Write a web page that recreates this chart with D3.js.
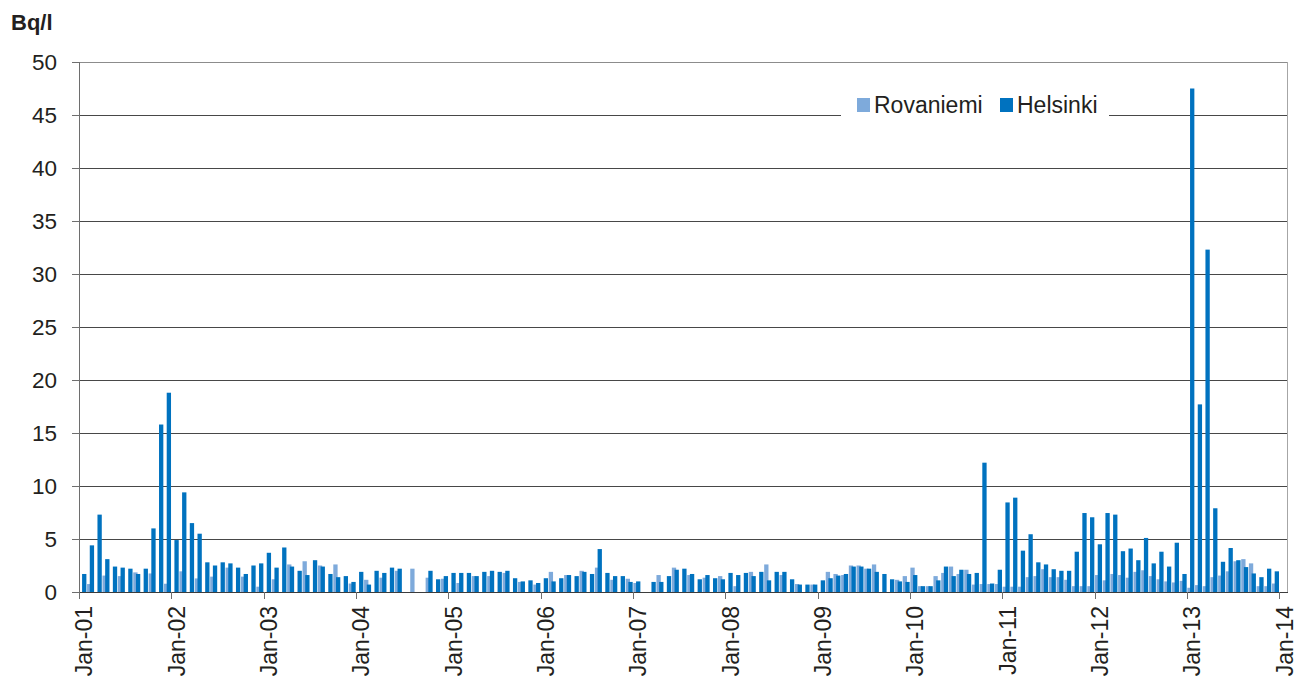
<!DOCTYPE html>
<html>
<head>
<meta charset="utf-8">
<script src="https://cdn.jsdelivr.net/npm/d3@7"></script>
<style>
  body { margin: 0; background: #fff; }
  svg { display: block; }
  text { font-family: "Liberation Sans", Arial, Helvetica, sans-serif; fill: #231f20; }
</style>
</head>
<body>
<svg id="chart" width="1297" height="679"></svg>
<script>
// Monthly tritium activity in precipitation, Bq/l, Jan 2001 – Dec 2013.
const seriesNames = ["Rovaniemi", "Helsinki"];
const seriesColors = ["#7eaadb", "#0072bf"];

const helsinki = [
  1.7, 4.4, 7.3, 3.1, 2.4, 2.3, 2.2, 1.7, 2.2, 6.0, 15.8, 18.8,        // 2001
  4.9, 9.4, 6.5, 5.5, 2.8, 2.5, 2.8, 2.7, 2.3, 1.7, 2.5, 2.7,          // 2002
  3.7, 2.3, 4.2, 2.4, 2.0, 1.6, 3.0, 2.4, 1.7, 1.4, 1.5, 0.95,         // 2003
  1.9, 0.7, 2.0, 1.8, 2.3, 2.2, null, null, null, 2.0, 1.2, 1.5,       // 2004
  1.8, 1.8, 1.8, 1.5, 1.9, 2.0, 1.9, 2.0, 1.3, 1.0, 1.1, 0.85,         // 2005
  1.3, 1.0, 1.3, 1.6, 1.5, 1.9, 1.7, 4.05, 1.8, 1.5, 1.5, 0.95,        // 2006
  1.0, null, 0.95, 0.95, 1.5, 2.1, 2.2, 1.7, 1.2, 1.6, 1.3, 1.2,       // 2007
  1.8, 1.6, 1.8, 1.5, 1.9, 1.1, 1.9, 1.9, 1.2, 0.7, 0.7, 0.7,          // 2008
  1.1, 1.3, 1.55, 1.7, 2.4, 2.4, 2.2, 1.9, 1.7, 1.2, 1.0, 0.95,        // 2009
  1.6, 0.55, 0.55, 1.1, 2.4, 1.5, 2.1, 1.7, 1.8, 12.2, 0.8, 2.1,       // 2010
  8.45, 8.9, 3.9, 5.45, 2.8, 2.6, 2.15, 2.0, 2.0, 3.8, 7.45, 7.05,     // 2011
  4.5, 7.45, 7.3, 3.85, 4.1, 3.0, 5.1, 2.7, 3.8, 2.4, 4.65, 1.7,       // 2012
  47.5, 17.7, 32.3, 7.9, 2.85, 4.15, 3.0, 2.35, 1.75, 1.4, 2.2, 1.95   // 2013
];

const rovaniemi = [
  null, 0.75, null, 1.55, null, 1.5, null, 1.85, null, 1.75, null, 0.78,   // 2001
  null, 1.95, null, 1.28, null, 1.45, null, 2.3, null, 1.45, null, 0.5,    // 2002
  null, 1.2, null, 2.6, null, 2.9, null, 2.5, null, 2.6, null, 0.8,        // 2003
  null, 1.15, null, 1.35, null, 2.0, null, 2.2, null, 1.35, null, 1.25,    // 2004
  null, 0.85, null, 1.5, null, 1.5, null, 1.8, null, 0.95, null, 0.7,      // 2005
  null, 1.9, null, 1.6, null, 2.0, null, 2.3, null, 1.15, null, 1.25,      // 2006
  0.85, null, null, 1.6, null, 2.3, null, 1.6, null, 1.35, null, 1.5,      // 2007
  null, 0.55, null, 1.9, null, 2.6, null, 1.6, null, 0.75, null, 0.7,      // 2008
  null, 1.9, 1.7, 1.6, 2.5, 2.5, 2.2, 2.6, null, null, 1.15, 1.5,          // 2009
  2.3, 0.55, 0.55, 1.5, 1.8, 2.4, 1.7, 2.1, 0.7, 0.75, 0.75, 0.75,         // 2010
  0.5, 0.5, 0.5, 1.4, 1.5, 2.15, 1.4, 1.4, 1.15, 0.55, 0.55, 0.55,         // 2011
  1.6, 1.1, 1.7, 1.6, 1.35, 1.9, 2.05, 1.5, 1.2, 1.0, 0.9, 1.05,           // 2012
  0.4, 0.65, 0.55, 1.4, 1.55, 1.95, 2.9, 3.1, 2.7, 0.55, 0.55, 0.8         // 2013
];

const tickLabels = ["Jan-01", "Jan-02", "Jan-03", "Jan-04", "Jan-05", "Jan-06", "Jan-07",
                    "Jan-08", "Jan-09", "Jan-10", "Jan-11", "Jan-12", "Jan-13", "Jan-14"];
const yTicks = [0, 5, 10, 15, 20, 25, 30, 35, 40, 45, 50];
const unitLabel = "Bq/l";

// ---- layout ----
const plot = { left: 79, right: 1287, top: 62, bottom: 592 };
const svg = d3.select("#chart");

// One monthly slot per category, plus a trailing empty slot for Jan-14.
const slots = d3.range(helsinki.length + 1);
const x = d3.scaleBand().domain(slots).range([plot.left, plot.right]).padding(0);
const y = d3.scaleLinear().domain([0, 50]).range([plot.bottom, plot.top]);
// Position of the two overlapping bars inside a slot (fraction of slot width).
const inner = d3.scaleLinear().domain([0, 1]).range([0, x.bandwidth()]);
const barSpec = [
  { values: rovaniemi, color: seriesColors[0], off: 0.05, w: 0.56 },
  { values: helsinki,  color: seriesColors[1], off: 0.40, w: 0.56 }
];

// gridlines
svg.append("g").selectAll("line")
  .data(yTicks.filter(v => v > 0))
  .join("line")
  .attr("x1", plot.left).attr("x2", plot.right)
  .attr("y1", d => Math.round(y(d)) + 0.5).attr("y2", d => Math.round(y(d)) + 0.5)
  .attr("stroke", d => d === 50 ? "#8c8c8c" : "#474747")
  .attr("stroke-width", 1);

// right border of plot area
svg.append("line")
  .attr("x1", plot.right + 0.5).attr("x2", plot.right + 0.5)
  .attr("y1", plot.top).attr("y2", plot.bottom)
  .attr("stroke", "#a6a6a6");

// bars
barSpec.forEach(s => {
  svg.append("g").selectAll("rect")
    .data(s.values.map((v, i) => ({ v, i })).filter(d => d.v != null))
    .join("rect")
    .attr("x", d => x(d.i) + inner(s.off))
    .attr("width", inner(s.w))
    .attr("y", d => y(d.v))
    .attr("height", d => y(0) - y(d.v))
    .attr("fill", s.color);
});

// y axis
const yAxis = svg.append("g");
yAxis.append("line")
  .attr("x1", plot.left + 0.5).attr("x2", plot.left + 0.5)
  .attr("y1", plot.top).attr("y2", plot.bottom)
  .attr("stroke", "#6e6e6e");
yAxis.selectAll("line.tick")
  .data(yTicks).join("line").attr("class", "tick")
  .attr("x1", plot.left - 7).attr("x2", plot.left)
  .attr("y1", d => Math.round(y(d)) + 0.5).attr("y2", d => Math.round(y(d)) + 0.5)
  .attr("stroke", "#6e6e6e");
yAxis.selectAll("text")
  .data(yTicks).join("text")
  .attr("x", 57).attr("y", d => y(d))
  .attr("dy", "0.36em")
  .attr("text-anchor", "end")
  .style("font-size", "22.5px")
  .text(d => d);

// x axis
const xAxis = svg.append("g");
xAxis.append("line")
  .attr("x1", plot.left).attr("x2", plot.right + 1)
  .attr("y1", plot.bottom + 0.5).attr("y2", plot.bottom + 0.5)
  .attr("stroke", "#3c3c3c");
xAxis.selectAll("line.tick")
  .data(tickLabels).join("line").attr("class", "tick")
  .attr("x1", (d, i) => Math.round(x(i * 12)) + 0.5)
  .attr("x2", (d, i) => Math.round(x(i * 12)) + 0.5)
  .attr("y1", plot.bottom).attr("y2", plot.bottom + 7)
  .attr("stroke", "#6e6e6e");
xAxis.selectAll("text")
  .data(tickLabels).join("text")
  .attr("transform", (d, i) => `translate(${x(i * 12) + 5},606) rotate(-90)`)
  .attr("dy", "0.36em")
  .attr("text-anchor", "end")
  .style("font-size", "23px")
  .text(d => d);

// unit label
svg.append("text")
  .attr("x", 11).attr("y", 30)
  .style("font-size", "22px").style("font-weight", "bold")
  .text(unitLabel);

// legend
const legend = svg.append("g");
legend.append("rect")
  .attr("x", 841).attr("y", 90).attr("width", 268).attr("height", 36)
  .attr("fill", "#fff");
const legendX = [857, 1000];
seriesNames.forEach((name, i) => {
  legend.append("rect")
    .attr("x", legendX[i]).attr("y", 98).attr("width", 13).attr("height", 14)
    .attr("fill", seriesColors[i]);
  legend.append("text")
    .attr("x", legendX[i] + 17).attr("y", 113)
    .style("font-size", "23px")
    .text(name);
});
</script>
</body>
</html>
